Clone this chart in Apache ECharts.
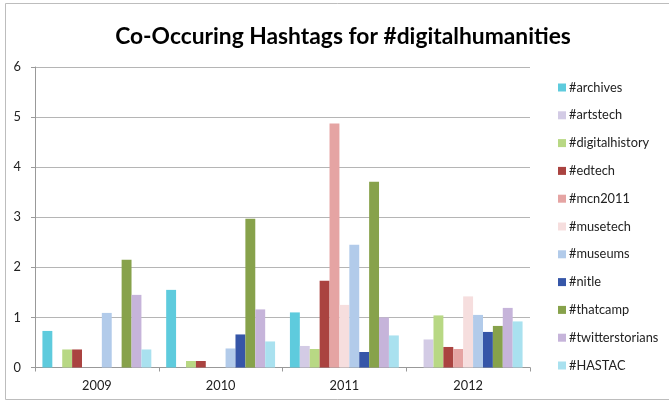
<!DOCTYPE html>
<html>
<head>
<meta charset="utf-8">
<script src="https://cdn.jsdelivr.net/npm/echarts@6/dist/echarts.min.js"></script>
<style>
html,body{margin:0;padding:0;background:#fff;}
#chart{width:669px;height:403px;}
</style>
</head>
<body>
<div id="chart"></div>
<script>
const categories = ['2009', '2010', '2011', '2012'];
const seriesNames = ['#archives', '#artstech', '#digitalhistory', '#edtech', '#mcn2011', '#musetech', '#museums', '#nitle', '#thatcamp', '#twitterstorians', '#HASTAC'];
const archives = [0.73, 1.55, 1.10, 0];
const artstech = [0, 0, 0.43, 0.56];
const digitalhistory = [0.36, 0.13, 0.37, 1.04];
const edtech = [0.36, 0.13, 1.73, 0.41];
const mcn2011 = [0, 0, 4.87, 0.37];
const musetech = [0, 0, 1.25, 1.42];
const museums = [1.09, 0.38, 2.45, 1.05];
const nitle = [0, 0.66, 0.31, 0.71];
const thatcamp = [2.15, 2.97, 3.71, 0.83];
const twitterstorians = [1.45, 1.16, 1.00, 1.19];
const HASTAC = [0.36, 0.52, 0.64, 0.92];
const yTicks = [0, 1, 2, 3, 4, 5, 6];

const allValues = [archives, artstech, digitalhistory, edtech, mcn2011, musetech, museums, nitle, thatcamp, twitterstorians, HASTAC];
const colors = ['#5ECBDD', '#D3CBE5', '#B8D884', '#AA4340', '#E5A4A3', '#F6DEDE', '#B2CBEA', '#3656A8', '#87A24B', '#C6B4DA', '#A9E1EF'];

const chart = echarts.init(document.getElementById('chart'), null, {renderer: 'canvas'});
chart.setOption({
  animation: false,
  backgroundColor: '#fff',
  title: {
    text: 'Co-Occuring Hashtags for #digitalhumanities',
    left: 338, top: 20, textAlign: 'center',
    textStyle: {fontFamily: 'Lato', fontWeight: 'bold', fontSize: 22.8, color: '#000'}
  },
  graphic: [{
    type: 'rect', shape: {x: 5.5, y: 3.5, width: 700, height: 396}, silent: true,
    style: {fill: 'none', stroke: '#BDBDBD', lineWidth: 1}
  }],
  legend: {
    orient: 'vertical', left: 553, top: 76, itemGap: 14.8,
    itemWidth: 8, itemHeight: 8, icon: 'rect',
    data: seriesNames,
    textStyle: {fontFamily: 'Lato', fontSize: 12.8, color: '#222', padding: [0, 0, 0, -2]}
  },
  grid: {left: 35, right: 139, top: 67, bottom: 35.5, containLabel: false},
  xAxis: {
    type: 'category', data: categories,
    axisLine: {lineStyle: {color: '#999'}},
    axisTick: {show: true, length: 4, lineStyle: {color: '#999'}},
    axisLabel: {fontFamily: 'Lato', fontSize: 12.8, color: '#222', margin: 12}
  },
  yAxis: {
    type: 'value', min: 0, max: 6, interval: 1,
    axisLine: {show: true, lineStyle: {color: '#999'}},
    axisTick: {show: true, length: 4, lineStyle: {color: '#999'}},
    axisLabel: {fontFamily: 'Lato', fontSize: 12.8, color: '#222', margin: 14,
      formatter: v => String(yTicks[v] !== undefined ? yTicks[v] : v)},
    splitLine: {lineStyle: {color: '#B5B5B5'}}
  },
  series: seriesNames.map((n, i) => ({
    name: n, type: 'bar', data: allValues[i],
    barGap: '0%', barCategoryGap: '12%',
    itemStyle: {color: colors[i]}
  }))
});
</script>
</body>
</html>
